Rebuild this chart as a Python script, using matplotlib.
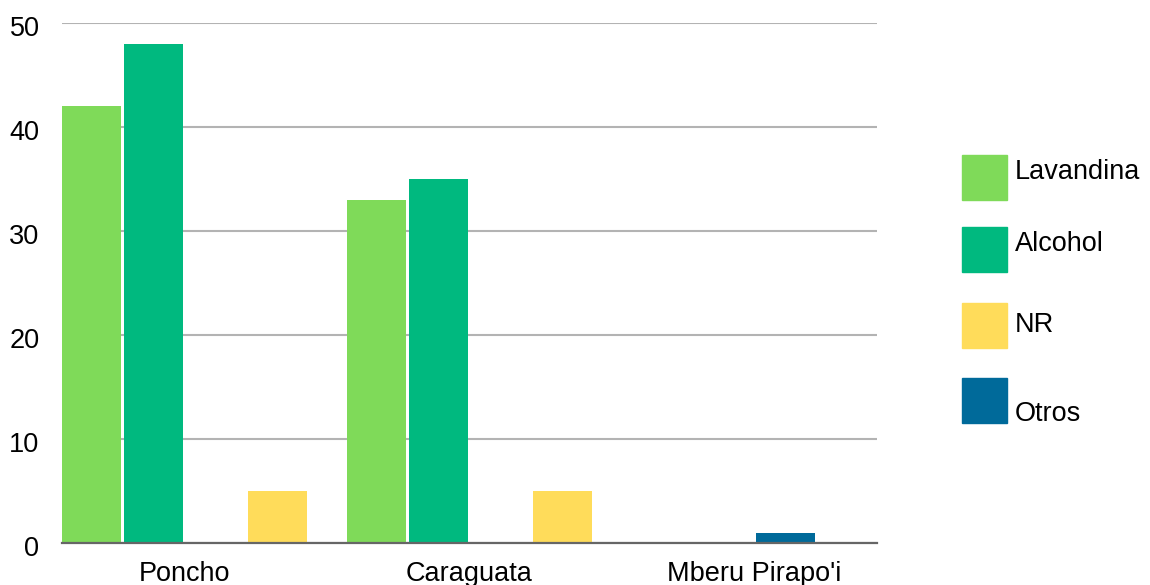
import numpy as np
import matplotlib.pyplot as plt
from matplotlib.patches import Rectangle
from matplotlib.transforms import ScaledTranslation

plt.rcParams['font.family'] = ['Liberation Sans', 'DejaVu Sans']

# data
categories = ['Poncho', 'Caraguata', "Mberu Pirapo'i"]
lavandina = [42, 33, 0]
alcohol = [48, 35, 0]
nr = [5, 5, 0]
otros = [0, 0, 1]

series_names = ['Lavandina', 'Alcohol', 'NR', 'Otros']
series_vals = [lavandina, alcohol, nr, otros]
colors = ['#7fda59', '#00b97f', '#ffdc5a', '#006a9a']
slots = [0, 1, 3, 2]   # position of each series inside a group

W, H = 1150, 585
fig = plt.figure(figsize=(W / 100, H / 100), dpi=100)
ax = fig.add_axes([61.7 / W, (H - 543) / H, (877 - 61.7) / W, (543 - 23) / H])

step = 62 / 285.3
width = 59 / 285.3
x = np.arange(len(categories))
for vals, col, s in zip(series_vals, colors, slots):
    vals = np.array(vals, dtype=float)
    pos = x - 1.5 * step + s * step
    mask = vals > 0
    ax.bar(pos[mask], vals[mask], width=width, color=col, zorder=3, linewidth=0)

ax.set_ylim(0, 50)
ax.set_xlim(-1.5 * step - width / 2, 2 + 1.5 * step + width / 2)
ax.set_yticks(range(0, 51, 10))
ax.set_xticks(x)
ax.set_xticklabels(categories)
ax.yaxis.grid(True, color='#b3b3b3', linewidth=1.5, zorder=0)
ax.set_axisbelow(True)
for sp in ['top', 'right', 'left']:
    ax.spines[sp].set_visible(False)
ax.spines['bottom'].set_color('#666666')
ax.spines['bottom'].set_linewidth(1.6)
ax.spines['bottom'].set_zorder(4)
ax.tick_params(axis='both', length=0, labelsize=19.5, colors='black')
ax.tick_params(axis='y', pad=16)
ax.tick_params(axis='x', pad=13)

# nudge y labels down a little, like the original
off = ScaledTranslation(0, -2 / 72, fig.dpi_scale_trans)
for lbl in ax.get_yticklabels():
    lbl.set_transform(lbl.get_transform() + off)

# legend drawn by hand to copy the uneven spacing
patch_tops = [155, 227, 303, 378]
text_bases = [179, 251, 331.7, 420.7]
for name, col, top, base in zip(series_names, colors, patch_tops, text_bases):
    fig.patches.append(Rectangle((962 / W, (H - top - 45) / H), 45 / W, 45 / H,
                                 transform=fig.transFigure, color=col))
    fig.text(1015 / W, (H - base) / H, name, fontsize=19.5, va='baseline', ha='left')

plt.savefig('out.png', dpi=100)
